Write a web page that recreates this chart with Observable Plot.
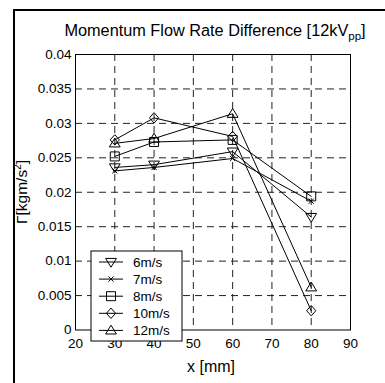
<!DOCTYPE html>
<html>
<head>
<meta charset="utf-8">
<script src="https://cdn.jsdelivr.net/npm/d3@7"></script>
<script src="https://cdn.jsdelivr.net/npm/@observablehq/plot@0.6"></script>
<style>
  html, body { margin: 0; padding: 0; background: #fff; }
  #chart { position: relative; width: 385px; height: 383px; overflow: hidden; }
</style>
</head>
<body>
<div id="chart"></div>
<script>
// ---- data ----
const positions = [30, 40, 60, 80];           // x [mm]
const seriesNames = ["6m/s", "7m/s", "8m/s", "10m/s", "12m/s"];
const v6  = [0.0236, 0.0240, 0.0259, 0.0164];
const v7  = [0.0231, 0.0236, 0.0249, 0.0187];
const v8  = [0.0252, 0.0273, 0.0276, 0.0194];
const v10 = [0.0276, 0.0308, 0.0281, 0.0028];
const v12 = [0.0271, 0.0278, 0.0314, 0.0062];
const xTicks = [20, 30, 40, 50, 60, 70, 80, 90];
const yTicks = [0, 0.005, 0.01, 0.015, 0.02, 0.025, 0.03, 0.035, 0.04];

// ---- marker symbols ----
const k = r => r / 5;
const triUp = { draw(c, size) { const s = k(Math.sqrt(size / Math.PI));
  c.moveTo(0, -5.2 * s); c.lineTo(5.4 * s, 3.6 * s); c.lineTo(-5.4 * s, 3.6 * s); c.closePath(); } };
const triDown = { draw(c, size) { const s = k(Math.sqrt(size / Math.PI));
  c.moveTo(0, 5.2 * s); c.lineTo(5.4 * s, -3.6 * s); c.lineTo(-5.4 * s, -3.6 * s); c.closePath(); } };
const square = { draw(c, size) { const s = k(Math.sqrt(size / Math.PI));
  c.rect(-4.5 * s, -4.5 * s, 9 * s, 9 * s); } };
const diamond = { draw(c, size) { const s = k(Math.sqrt(size / Math.PI));
  c.moveTo(0, -5.2 * s); c.lineTo(4.6 * s, 0); c.lineTo(0, 5.2 * s); c.lineTo(-4.6 * s, 0); c.closePath(); } };
const cross = { draw(c, size) { const s = k(Math.sqrt(size / Math.PI));
  c.moveTo(-2.6 * s, -2.6 * s); c.lineTo(2.6 * s, 2.6 * s); c.moveTo(2.6 * s, -2.6 * s); c.lineTo(-2.6 * s, 2.6 * s); } };

const seriesValues = [v6, v7, v8, v10, v12];
const symbols = [triDown, cross, square, diamond, triUp];
const rows = [];
seriesNames.forEach((name, i) => positions.forEach((x, j) => rows.push({ series: name, idx: i, x, y: seriesValues[i][j] })));

const font = "'Liberation Sans', Arial, Helvetica, sans-serif";
const dash = "7,5";

const marks = [
  Plot.ruleX(xTicks.slice(1, -1), { stroke: "#222", strokeWidth: 1, strokeDasharray: dash }),
  Plot.ruleY(yTicks.slice(1, -1), { stroke: "#222", strokeWidth: 1, strokeDasharray: dash }),
  Plot.frame({ stroke: "#000", strokeWidth: 1 })
];
seriesNames.forEach((name, i) => {
  const d = rows.filter(r => r.idx === i);
  marks.push(Plot.line(d, { x: "x", y: "y", stroke: "#000", strokeWidth: 1 }));
  marks.push(Plot.dot(d, { x: "x", y: "y", symbol: symbols[i], r: 5, stroke: "#000", strokeWidth: 1, fill: "none" }));
});

const chart = Plot.plot({
  width: 385, height: 383,
  marginLeft: 75, marginRight: 35, marginTop: 54, marginBottom: 53.5,
  x: { domain: [20, 90], ticks: xTicks, tickSize: 0, tickPadding: 8, label: null },
  y: { domain: [0, 0.04], ticks: yTicks, tickSize: 0, tickPadding: 4, label: null,
       tickFormat: d => String(+d.toFixed(3)) },
  style: { fontFamily: font, fontSize: "13.5px", color: "#000", background: "transparent", overflow: "visible" },
  marks
});
document.getElementById("chart").appendChild(chart);

// ---- decorations ----
const svg = d3.select(chart);
const g = svg.append("g").attr("font-family", font).attr("fill", "#000").attr("text-anchor", "start");

// outer figure border (left/top visible)
g.append("line").attr("x1", 14).attr("y1", 10).attr("x2", 400).attr("y2", 10).attr("stroke", "#000").attr("stroke-width", 2);
g.append("line").attr("x1", 14).attr("y1", 9).attr("x2", 14).attr("y2", 400).attr("stroke", "#000").attr("stroke-width", 2);

// title
const t = g.append("text").attr("x", 215).attr("y", 36).attr("text-anchor", "middle").attr("font-size", 16.3);
t.append("tspan").text("Momentum Flow Rate Difference [12kV");
t.append("tspan").attr("dy", 4).attr("font-size", 11.5).text("pp");
t.append("tspan").attr("dy", -4).text("]");

// x label
g.append("text").attr("x", 211).attr("y", 372).attr("text-anchor", "middle").attr("font-size", 16).text("x [mm]");

// y label
const yl = g.append("text").attr("transform", "translate(27,192) rotate(-90)").attr("text-anchor", "middle").attr("font-size", 15.5);
yl.append("tspan").text("Γ[kgm/s");
yl.append("tspan").attr("dy", -6).attr("font-size", 10).text("2");
yl.append("tspan").attr("dy", 6).text("]");

// legend
const lg = g.append("g");
lg.append("rect").attr("x", 91).attr("y", 251).attr("width", 91).attr("height", 90)
  .attr("fill", "#fff").attr("stroke", "#000").attr("stroke-width", 1);
seriesNames.forEach((name, i) => {
  const yy = 262 + i * 17.1;
  lg.append("line").attr("x1", 99).attr("x2", 123).attr("y1", yy).attr("y2", yy).attr("stroke", "#000").attr("stroke-width", 1);
  lg.append("path").attr("transform", `translate(111,${yy})`)
    .attr("d", d3.symbol(symbols[i], 25 * Math.PI)())
    .attr("fill", "none").attr("stroke", "#000").attr("stroke-width", 1);
  lg.append("text").attr("x", 133).attr("y", yy).attr("dy", "0.35em").attr("text-anchor", "start").attr("font-size", 13.5).text(name);
});
</script>
</body>
</html>
